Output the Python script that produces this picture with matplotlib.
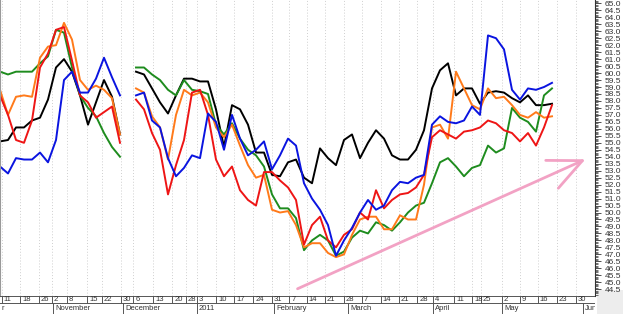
import numpy as np
import matplotlib.pyplot as plt
from matplotlib.patches import Rectangle
from matplotlib.ticker import MultipleLocator, FormatStrFormatter

plt.rcParams['font.family'] = ['Liberation Sans', 'DejaVu Sans']

# x position of each sample (chart units, roughly one trading day)
days = np.arange(70) * 2.0
nan = np.nan

black = [55.1, 55.2, 56.1, 56.1, 56.6, 56.8, 58.1, 60.4, 61.0, 60.1,
         58.4, 56.3, 57.9, 59.5, 58.3, 55.6, nan, 60.1, 59.9, 58.9,
         57.9, 57.1, 58.4, 59.6, 59.6, 59.4, 59.4, 57.4, 54.7, 57.7,
         57.4, 56.3, 54.3, 54.3, 52.7, 52.6, 53.6, 53.8, 52.5, 52.1,
         54.6, 53.9, 53.4, 55.2, 55.6, 53.9, 55.0, 55.9, 55.3, 54.1,
         53.8, 53.8, 54.5, 55.9, 58.9, 60.2, 60.7, 58.4, 58.9, 58.9,
         57.8, 58.6, 58.7, 58.6, 58.2, 57.9, 58.4, 57.7, 57.7, 57.8]

green = [60.1, 59.9, 60.1, 60.1, 60.1, 60.7, 61.2, 63.1, 62.9, 60.4,
         58.4, 57.5, 56.9, 55.7, 54.7, 54.0, nan, 60.4, 60.4, 59.9,
         59.5, 58.8, 58.4, 59.5, 58.8, 58.7, 58.5, 56.3, 55.6, 56.4,
         55.3, 54.5, 54.1, 53.3, 51.3, 50.3, 50.3, 49.6, 47.3, 48.0,
         48.4, 48.0, 46.9, 47.2, 48.2, 48.7, 48.5, 49.3, 49.1, 48.7,
         49.3, 50.0, 50.5, 50.7, 52.1, 53.6, 53.9, 53.3, 52.6, 53.2,
         53.4, 54.8, 54.3, 54.6, 57.5, 56.8, 56.5, 55.8, 58.4, 58.9]

blue = [53.3, 52.8, 53.9, 53.8, 53.8, 54.3, 53.6, 55.2, 59.5, 60.1,
        58.6, 58.6, 59.6, 61.1, 59.7, 58.4, nan, 58.4, 58.6, 56.6,
        56.1, 53.9, 52.6, 53.2, 54.1, 53.9, 57.1, 56.5, 54.5, 57.0,
        55.3, 54.1, 54.5, 55.1, 53.1, 54.1, 55.3, 54.8, 52.1, 51.0,
        50.2, 49.1, 46.9, 48.0, 48.9, 50.0, 50.9, 50.2, 50.5, 51.6,
        52.2, 52.1, 52.5, 52.7, 56.3, 56.9, 56.5, 56.4, 56.6, 57.6,
        57.0, 62.7, 62.5, 61.7, 58.8, 58.1, 58.9, 58.8, 59.0, 59.3]

red = [58.4, 57.0, 55.2, 55.0, 56.6, 60.4, 61.4, 63.1, 63.3, 60.9,
       58.4, 57.9, 56.8, 57.2, 57.6, 55.0, nan, 58.1, 57.4, 55.7,
       54.5, 51.3, 53.4, 55.2, 58.6, 58.8, 57.0, 53.8, 52.6, 53.3,
       51.6, 50.9, 50.5, 52.9, 52.9, 52.3, 51.8, 50.9, 47.7, 49.1,
       49.7, 48.0, 47.5, 48.4, 48.8, 50.0, 49.5, 51.6, 50.3, 50.9,
       51.3, 51.4, 51.8, 52.7, 55.4, 55.9, 55.6, 55.3, 55.8, 55.9,
       56.1, 56.6, 56.4, 55.9, 55.7, 55.1, 55.7, 54.8, 56.1, 57.7]

orange = [58.8, 57.0, 58.3, 58.4, 58.3, 61.1, 61.9, 62.0, 63.6, 62.4,
          59.5, 58.8, 59.1, 58.8, 58.2, 55.6, nan, 58.9, 58.6, 56.9,
          56.1, 53.8, 57.0, 58.8, 58.4, 58.6, 57.9, 56.1, 55.4, 56.3,
          54.8, 53.4, 52.5, 52.7, 50.2, 50.0, 50.1, 49.1, 47.5, 47.8,
          47.8, 47.1, 46.8, 47.0, 48.4, 49.5, 49.7, 49.7, 48.8, 48.8,
          49.8, 49.5, 49.5, 52.0, 56.1, 56.3, 55.3, 60.1, 58.9, 57.7,
          57.4, 58.9, 58.2, 58.3, 57.7, 57.0, 56.8, 57.2, 56.8, 56.9]

# weekly date ticks and month starts
week_pos = [0.4, 5.0, 9.75, 12.9, 16.7, 21.8, 25.4, 30.2, 33.3, 38.3, 43.1, 46.4,
            49.2, 54.0, 58.6, 63.3, 67.9, 72.3, 76.7, 81.25, 86.0, 90.4, 95.2,
            99.75, 104.3, 108.3, 113.5, 118.1, 120.2, 125.4, 130.0, 134.4, 139.2, 144.0]
week_lab = ['11', '18', '26', '2', '8', '15', '22', '30', '6', '13', '20', '28',
            '3', '10', '17', '24', '31', '7', '14', '21', '28', '7', '14', '21',
            '28', '4', '11', '18', '25', '2', '9', '16', '23', '30']
month_pos = [-1.0, 13.25, 30.75, 49.25, 68.5, 87.0, 108.25, 125.5, 145.75]
month_lab = ['r', 'November', 'December', '2011', 'February', 'March',
             'April', 'May', 'June']

x_max = 148.75
W, H = 623, 314
fig = plt.figure(figsize=(W / 100, H / 100), dpi=100)

# grey block under the price scale
fig.patches.append(Rectangle((597 / W, 0), 26 / W, 24 / H, transform=fig.transFigure,
                             facecolor='#ededed', edgecolor='none', zorder=-5))

ax = fig.add_axes([0, 18.5 / H, 595 / W, 295.5 / H])
ax.patch.set_alpha(0)

for xv in week_pos:
    ax.axvline(xv, color='#cfcfcf', lw=0.7, ls=(0, (1, 2)), zorder=0)

series = [(black, '#000000'), (green, '#1e8c1e'), (orange, '#ff7a1a'),
          (red, '#ee1515'), (blue, '#0a14e0')]
for vals, col in series:
    ax.plot(days, vals, color=col, lw=1.4, solid_joinstyle='round')

ax.annotate('', xy=(147.0, 53.9), xytext=(73.75, 44.45),
            arrowprops=dict(arrowstyle='->,head_length=2.4,head_width=1.1',
                            color='#f2a2c4', lw=2.0, mutation_scale=10))

ax.set_xlim(0, x_max)
ax.set_ylim(44.05, 65.24)
ax.set_xticks([])
ax.yaxis.tick_right()
ax.yaxis.set_major_locator(MultipleLocator(0.5))
ax.yaxis.set_minor_locator(MultipleLocator(0.1))
ax.yaxis.set_major_formatter(FormatStrFormatter('%.1f'))
ax.tick_params(axis='y', which='major', length=4, width=0.6, labelsize=6,
               colors='#333333', pad=3)
ax.tick_params(axis='y', which='minor', length=2, width=0.5, colors='#333333')
ax.spines['top'].set_visible(False)
ax.spines['bottom'].set_visible(False)
ax.spines['left'].set_color('#999999')
ax.spines['right'].set_color('#333333')

# date band under the plot
axd = fig.add_axes([0, 0, 595 / W, 18.5 / H])
axd.set_xlim(0, x_max)
axd.set_ylim(0, 18.5)
axd.axis('off')
axd.axhline(18.2, color='#555555', lw=0.7)
axd.axhline(11.3, color='#555555', lw=0.7)
for xv, lab in zip(week_pos, week_lab):
    axd.plot([xv, xv], [11.3, 18.2], color='#555555', lw=0.7)
    axd.text(xv + 0.5, 14.7, lab, fontsize=5.5, color='#333333',
             ha='left', va='center')
for xv, lab in zip(month_pos, month_lab):
    axd.plot([xv, xv], [1.5, 11.3], color='#555555', lw=0.7)
    axd.text(max(xv + 0.5, 0.3), 6.0, lab, fontsize=5.5, color='#333333',
             ha='left', va='center', clip_on=True)
axd.plot([x_max, x_max], [1.5, 18.2], color='#555555', lw=0.7)

fig.savefig('out.png', dpi=100)
